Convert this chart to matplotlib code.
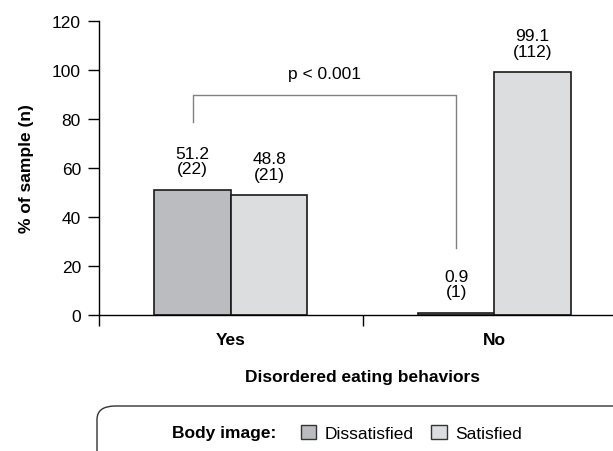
import numpy as np
import matplotlib.pyplot as plt
from matplotlib.patches import FancyBboxPatch, Patch

plt.rcParams['font.family'] = ['Liberation Sans', 'DejaVu Sans']

# data
categories = ['Yes', 'No']
dissatisfied = [51.2, 0.9]
satisfied = [48.8, 99.1]
dissatisfied_n = [22, 1]
satisfied_n = [21, 112]

c_dis = '#bbbcc0'
c_sat = '#dcdddf'
fs = 12.5

fig = plt.figure(figsize=(6.13, 4.52), dpi=100)
ax = fig.add_axes([0.1615, 0.301, 0.86, 0.65])

x = np.arange(len(categories))
w = 0.29
ax.bar(x - w/2, dissatisfied, w, color=c_dis, edgecolor='#1a1a1a', linewidth=1.2)
ax.bar(x + w/2, satisfied, w, color=c_sat, edgecolor='#1a1a1a', linewidth=1.2)

# value labels
for i in range(len(categories)):
    ax.text(x[i] - w/2, dissatisfied[i] + 5.5, f'{dissatisfied[i]}\n({dissatisfied_n[i]})',
            ha='center', va='bottom', fontsize=fs, linespacing=1.05)
    ax.text(x[i] + w/2, satisfied[i] + 5.5, f'{satisfied[i]}\n({satisfied_n[i]})',
            ha='center', va='bottom', fontsize=fs, linespacing=1.05)

# significance bracket
x0 = x[0] - w/2
x1 = x[1] - w/2
ax.plot([x0, x0, x1, x1], [79, 90, 90, 27.5], color='#808080', linewidth=1.0)
ax.text((x0 + x1) / 2, 95.5, 'p < 0.001', ha='center', va='bottom', fontsize=fs)

ax.set_xlim(-0.5, 1.5)
ax.set_ylim(0, 120)
ax.set_yticks(range(0, 121, 20))
ax.set_xticks([-0.5, 0.5, 1.5])
ax.set_xticklabels([])
ax.set_xticks(x, minor=True)
ax.set_xticklabels(categories, minor=True, fontsize=fs, fontweight='bold')
ax.tick_params(axis='x', which='minor', length=0, pad=12)
ax.tick_params(axis='x', which='major', length=8, width=1, direction='out')
ax.tick_params(axis='y', length=8, width=1, direction='out', labelsize=fs, pad=5)

for s in ['top', 'right']:
    ax.spines[s].set_visible(False)
for s in ['left', 'bottom']:
    ax.spines[s].set_linewidth(1.0)

ax.set_ylabel('% of sample (n)', fontsize=fs, fontweight='bold', labelpad=13)
ax.set_xlabel('Disordered eating behaviors', fontsize=fs, fontweight='bold', labelpad=16)

# legend box
box = FancyBboxPatch((97/613, -0.05), 0.9, (452-407)/452 + 0.05,
                     boxstyle='round,pad=0,rounding_size=0.03',
                     transform=fig.transFigure, facecolor='none',
                     edgecolor='#333333', linewidth=1.0, clip_on=False)
fig.patches.append(box)
fig.text(224/613, 1 - 434/452, 'Body image:', ha='center', va='center',
         fontsize=fs, fontweight='bold')
handles = [Patch(facecolor=c_dis, edgecolor='#333333', label='Dissatisfied'),
           Patch(facecolor=c_sat, edgecolor='#333333', label='Satisfied')]
fig.legend(handles=handles, ncol=2, frameon=False, fontsize=fs,
           loc='center left', bbox_to_anchor=(285/613, 1 - 434/452),
           handlelength=0.9, handleheight=0.9, handletextpad=0.5, columnspacing=1.0)

fig.savefig('out.png', dpi=100)
